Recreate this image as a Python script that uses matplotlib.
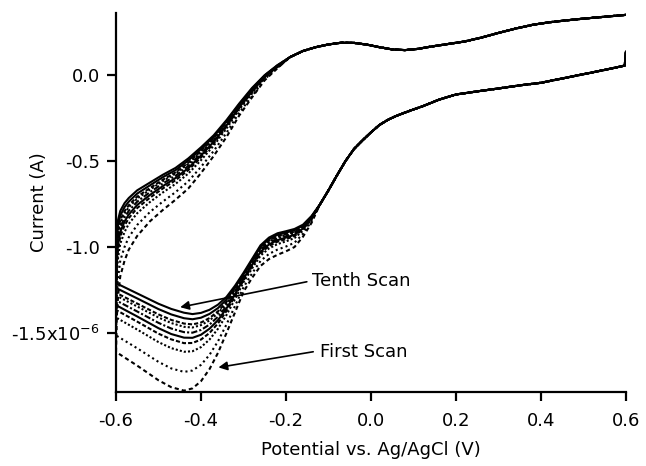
import numpy as np
import matplotlib
matplotlib.use("Agg")
import matplotlib.pyplot as plt
from matplotlib.ticker import FixedLocator, FixedFormatter

# ---- data (current in uA, potential in V) ----
# forward (anodic) sweep, left part: differs per scan
E_fwd_left = [-0.598, -0.595, -0.59, -0.58, -0.57, -0.55, -0.52, -0.49, -0.46, -0.43,
              -0.40, -0.37, -0.34, -0.31, -0.28, -0.25, -0.22]
# forward sweep, right part: all scans overlap
E_fwd_right = [-0.19, -0.16, -0.13, -0.10, -0.07, -0.04, -0.01, 0.02, 0.05, 0.08, 0.11,
               0.14, 0.18, 0.22, 0.26, 0.30, 0.34, 0.38, 0.42, 0.46, 0.50, 0.55, 0.60]
i_fwd_right = [0.105, 0.14, 0.162, 0.178, 0.188, 0.187, 0.177, 0.162, 0.149, 0.145, 0.152,
               0.165, 0.18, 0.195, 0.218, 0.245, 0.27, 0.292, 0.307, 0.318, 0.328, 0.339, 0.35]

# reverse (cathodic) sweep, right part: all scans overlap
E_rev_right = [0.600, 0.597, 0.55, 0.50, 0.45, 0.40, 0.35, 0.30, 0.25, 0.20, 0.16,
               0.12, 0.10, 0.08, 0.06, 0.04, 0.02, 0.00, -0.02, -0.04, -0.06, -0.08, -0.10, -0.12]
i_rev_right = [0.135, 0.055, 0.03, 0.005, -0.02, -0.045, -0.06, -0.078, -0.095, -0.113, -0.143,
               -0.183, -0.20, -0.218, -0.237, -0.26, -0.29, -0.333, -0.38, -0.43, -0.50, -0.583, -0.67, -0.752]
# reverse sweep, left part: differs per scan
E_rev_left = [-0.14, -0.16, -0.18, -0.20, -0.22, -0.24, -0.26, -0.28, -0.30, -0.32,
              -0.34, -0.36, -0.38, -0.40, -0.42, -0.44, -0.47, -0.50, -0.55, -0.60]

# scan 1 ... scan 10
i_fwd_left = [
    [-1.40, -1.28, -1.17, -1.08, -1.015, -0.935, -0.85, -0.785, -0.725, -0.66, -0.57, -0.47, -0.36, -0.235, -0.13, -0.03, 0.04],
    [-1.28, -1.174, -1.079, -1.00, -0.943, -0.871, -0.796, -0.736, -0.681, -0.618, -0.534, -0.441, -0.336, -0.218, -0.124, -0.023, 0.042],
    [-1.15, -1.06, -0.98, -0.913, -0.865, -0.803, -0.738, -0.683, -0.633, -0.573, -0.495, -0.41, -0.311, -0.20, -0.108, -0.015, 0.047],
    [-1.095, -1.012, -0.938, -0.876, -0.832, -0.773, -0.713, -0.66, -0.612, -0.553, -0.479, -0.397, -0.30, -0.192, -0.10, -0.012, 0.049],
    [-1.06, -0.981, -0.912, -0.852, -0.811, -0.755, -0.697, -0.646, -0.599, -0.541, -0.468, -0.388, -0.293, -0.187, -0.096, -0.01, 0.051],
    [-1.025, -0.95, -0.885, -0.829, -0.79, -0.736, -0.681, -0.631, -0.586, -0.529, -0.458, -0.38, -0.287, -0.183, -0.091, -0.008, 0.052],
    [-0.99, -0.919, -0.858, -0.805, -0.769, -0.718, -0.666, -0.617, -0.573, -0.517, -0.447, -0.372, -0.28, -0.178, -0.087, -0.005, 0.054],
    [-0.97, -0.902, -0.843, -0.792, -0.757, -0.707, -0.657, -0.609, -0.566, -0.51, -0.441, -0.367, -0.276, -0.175, -0.084, -0.004, 0.055],
    [-0.935, -0.871, -0.817, -0.768, -0.736, -0.689, -0.641, -0.594, -0.553, -0.497, -0.431, -0.358, -0.269, -0.17, -0.08, -0.002, 0.056],
    [-0.90, -0.84, -0.79, -0.745, -0.715, -0.67, -0.625, -0.58, -0.54, -0.485, -0.42, -0.35, -0.262, -0.165, -0.075, 0.0, 0.058],
]
i_rev_left = [
    [-0.86, -0.94, -1.00, -1.025, -1.045, -1.07, -1.11, -1.18, -1.26, -1.38, -1.50, -1.615, -1.71, -1.78, -1.822, -1.835, -1.815, -1.775, -1.69, -1.61],
    [-0.85, -0.923, -0.975, -0.997, -1.015, -1.040, -1.081, -1.154, -1.234, -1.343, -1.450, -1.548, -1.627, -1.685, -1.718, -1.726, -1.706, -1.668, -1.589, -1.514],
    [-0.84, -0.905, -0.948, -0.967, -0.983, -1.008, -1.05, -1.125, -1.205, -1.303, -1.395, -1.475, -1.538, -1.582, -1.606, -1.609, -1.588, -1.553, -1.48, -1.41],
    [-0.836, -0.897, -0.936, -0.954, -0.969, -0.994, -1.037, -1.113, -1.193, -1.285, -1.372, -1.444, -1.50, -1.538, -1.558, -1.559, -1.537, -1.504, -1.434, -1.366],
    [-0.833, -0.892, -0.929, -0.945, -0.96, -0.985, -1.028, -1.105, -1.185, -1.275, -1.357, -1.425, -1.475, -1.51, -1.528, -1.527, -1.506, -1.472, -1.404, -1.338],
    [-0.83, -0.888, -0.921, -0.937, -0.951, -0.976, -1.02, -1.098, -1.178, -1.264, -1.343, -1.405, -1.451, -1.482, -1.498, -1.495, -1.474, -1.441, -1.375, -1.31],
    [-0.827, -0.883, -0.914, -0.929, -0.943, -0.968, -1.012, -1.09, -1.17, -1.253, -1.328, -1.385, -1.427, -1.454, -1.468, -1.464, -1.442, -1.41, -1.346, -1.282],
    [-0.826, -0.88, -0.91, -0.924, -0.938, -0.963, -1.007, -1.085, -1.165, -1.247, -1.319, -1.374, -1.413, -1.439, -1.45, -1.445, -1.424, -1.392, -1.329, -1.266],
    [-0.823, -0.875, -0.902, -0.916, -0.929, -0.954, -0.998, -1.078, -1.158, -1.236, -1.305, -1.355, -1.389, -1.411, -1.42, -1.414, -1.392, -1.361, -1.299, -1.238],
    [-0.82, -0.87, -0.895, -0.908, -0.92, -0.945, -0.99, -1.07, -1.15, -1.225, -1.29, -1.335, -1.365, -1.383, -1.39, -1.382, -1.36, -1.33, -1.27, -1.21],
]

yticks = [0.0, -0.5e-6, -1.0e-6, -1.5e-6]
ytick_labels = ["0.0", "-0.5", "-1.0", r"-1.5x10$^{\mathregular{-6}}$"]
xticks = [-0.6, -0.4, -0.2, 0.0, 0.2, 0.4, 0.6]
xtick_labels = ["-0.6", "-0.4", "-0.2", "0.0", "0.2", "0.4", "0.6"]

styles = [(0, (2, 1.5)), (0, (1, 1.5)), (0, (1, 1)), (0, (2, 1)), "-",
          (0, (3, 1, 1, 1)), (0, (1, 1)), (0, (2, 1)), "-", "-"]

plt.rcParams["font.family"] = ["DejaVu Sans"]
plt.rcParams["mathtext.default"] = "regular"
FS = 13

fig = plt.figure(figsize=(6.46, 4.66), dpi=100)
ax = fig.add_axes([0.1796, 0.1588, 0.7894, 0.8132])

for k in range(10):
    # vertical jump at -0.6 V, then forward sweep
    E_f = [-0.6] + E_fwd_left + E_fwd_right
    i_f = [i_rev_left[k][-1]] + i_fwd_left[k] + i_fwd_right
    E_r = E_rev_right + E_rev_left
    i_r = i_rev_right + i_rev_left[k]
    ax.plot(E_f, np.array(i_f) * 1e-6, color="black", lw=1.5, ls=styles[k])
    ax.plot(E_r, np.array(i_r) * 1e-6, color="black", lw=1.5, ls=styles[k])

ax.set_xlim(-0.6, 0.6)
ax.set_ylim(-1.843e-6, 0.3605e-6)
ax.xaxis.set_major_locator(FixedLocator(xticks))
ax.xaxis.set_major_formatter(FixedFormatter(xtick_labels))
ax.yaxis.set_major_locator(FixedLocator(yticks))
ax.yaxis.set_major_formatter(FixedFormatter(ytick_labels))
for s in ["top", "right"]:
    ax.spines[s].set_visible(False)
for s in ["left", "bottom"]:
    ax.spines[s].set_linewidth(1.6)
ax.tick_params(direction="out", length=6.5, width=1.6, labelsize=FS, pad=5)
ax.tick_params(axis="x", pad=8)
ax.set_xlabel("Potential vs. Ag/AgCl (V)", fontsize=FS, labelpad=8)
ax.set_ylabel("Current (A)", fontsize=FS)
ax.yaxis.set_label_coords(-0.133, 0.5)

arw = dict(arrowstyle="-|>", color="black", lw=1.2, mutation_scale=13, shrinkA=0, shrinkB=0)
ax.annotate("", xy=(-0.449, -1.35e-6), xytext=(-0.151, -1.202e-6), arrowprops=arw)
ax.text(-0.139, -1.20e-6, "Tenth Scan", fontsize=FS, va="center", ha="left")
ax.annotate("", xy=(-0.359, -1.70e-6), xytext=(-0.136, -1.609e-6), arrowprops=arw)
ax.text(-0.12, -1.61e-6, "First Scan", fontsize=FS, va="center", ha="left")

fig.savefig("out.png", dpi=100)
